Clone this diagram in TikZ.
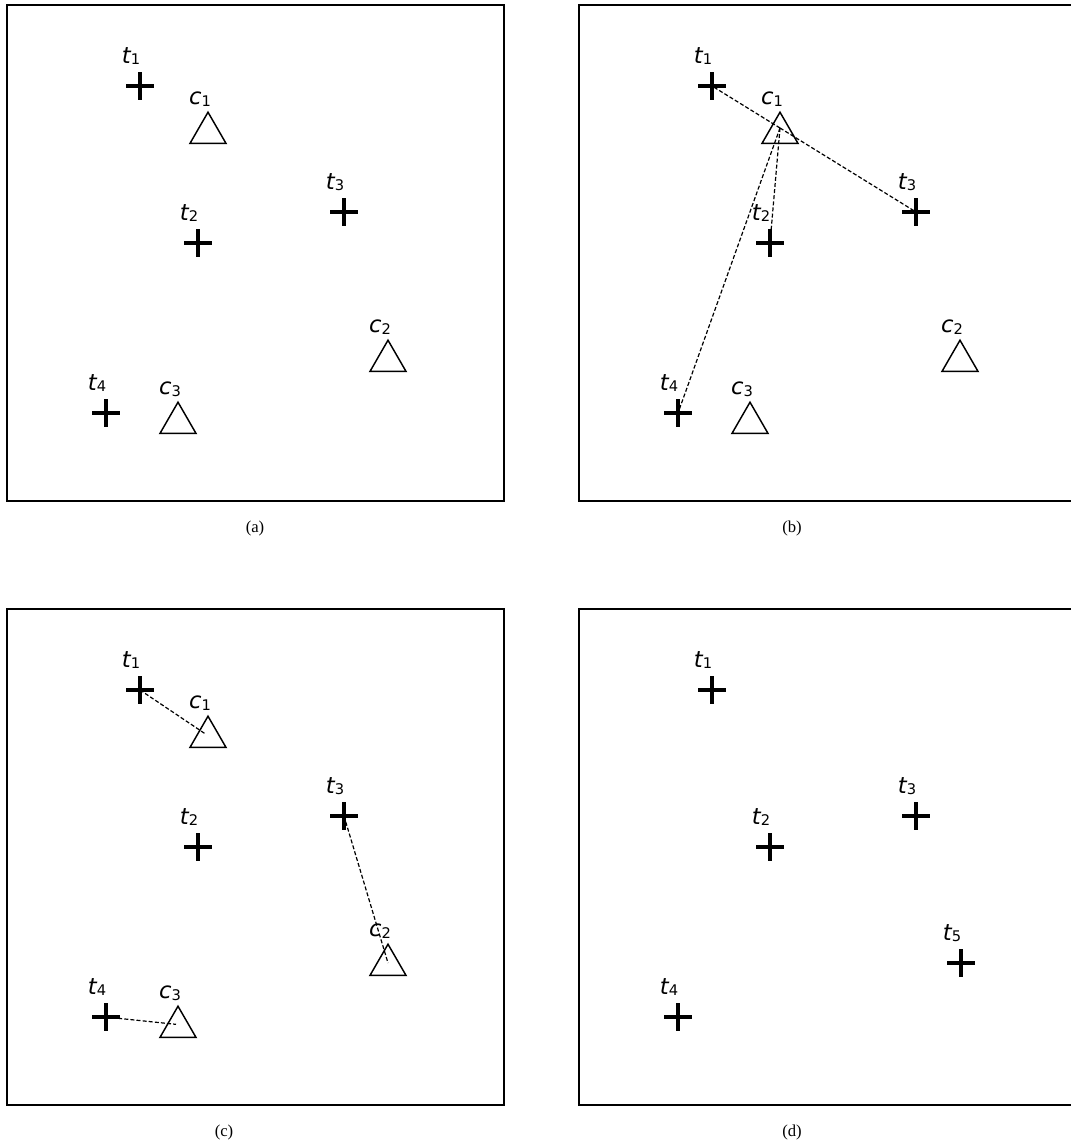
\documentclass[tikz,border=0pt]{standalone}
\usepackage{fontspec}
\setmainfont{Liberation Serif}
\newfontfamily\lblfont{DejaVu Sans}
\usetikzlibrary{shapes.geometric}
\tikzset{
  x=0.75pt, y=-0.75pt,
  panelbox/.style={line width=1.1pt},
  terminal/.style={rectangle, minimum size=21pt, inner sep=0pt,
    path picture={\draw[line width=2.3pt]
      (path picture bounding box.west)--(path picture bounding box.east)
      (path picture bounding box.north)--(path picture bounding box.south);}},
  concentrator/.style={draw, regular polygon, regular polygon sides=3,
    minimum size=31.2pt, inner sep=0pt, line width=1.1pt},
  lbl/.style={font=\lblfont\fontsize{17}{17}\selectfont, inner sep=0pt},
  link/.style={line width=0.9pt, dash pattern=on 3pt off 1.6pt},
  caption/.style={font=\fontsize{12.5}{14}\selectfont, inner sep=0pt}
}
\newcommand{\sublab}[2]{{\itshape #1}{\fontsize{11}{11}\selectfont\raisebox{-0.2ex}{#2}}}
% #1 prefix, #2 index, #3 x, #4 y
\newcommand{\term}[4]{%
  \node[terminal] (#1t#2) at (#3,#4) {};
  \node[lbl] (#1t#2lab) at (#3-9,#4-30) {\sublab{t}{#2}};}
\newcommand{\conc}[4]{%
  \node[concentrator] (#1c#2) at (#3,#4) {};
  \node[lbl] (#1c#2lab) at (#3-8,#4-34) {\sublab{c}{#2}};}
\newcommand{\baseterms}[1]{%
  \term{#1}{1}{140}{86}
  \term{#1}{2}{198}{243}
  \term{#1}{3}{344}{212}
  \term{#1}{4}{106}{413}}
\newcommand{\baseconcs}[1]{%
  \conc{#1}{1}{208}{133}
  \conc{#1}{2}{388}{361}
  \conc{#1}{3}{178}{423}}
\begin{document}
\begin{tikzpicture}
\useasboundingbox (0,0) rectangle (1071,1146);
% panel (a)
\begin{scope}
  \draw[panelbox] (7,5) rectangle (504,501);
  \baseterms{a}
  \baseconcs{a}
  \node[caption] (capa) at (255,528) {(a)};
\end{scope}
% panel (b)
\begin{scope}[shift={(572,0)}]
  \draw[panelbox] (510,5) -- (7,5) -- (7,501) -- (510,501);
  \baseterms{b}
  \baseconcs{b}
  \coordinate (bhub) at ([yshift=3.75pt]bc1.center);
  \draw[link] (bhub) -- (bt1.center);
  \draw[link] (bhub) -- (bt2.center);
  \draw[link] (bhub) -- (bt3.center);
  \draw[link] (bhub) -- (bt4.center);
  \node[caption] (capb) at (220,528) {(b)};
\end{scope}
% panel (c)
\begin{scope}[shift={(0,604)}]
  \draw[panelbox] (7,5) rectangle (504,501);
  \baseterms{c}
  \baseconcs{c}
  \draw[link] (ct1.center) -- ([xshift=-1.5pt,yshift=2pt]cc1.center);
  \draw[link] (ct3.center) -- ([yshift=1.5pt]cc2.center);
  \draw[link] (ct4.center) -- ([xshift=-1.5pt,yshift=2pt]cc3.center);
  \node[caption] (capc) at (224,528) {(c)};
\end{scope}
% panel (d)
\begin{scope}[shift={(572,604)}]
  \draw[panelbox] (510,5) -- (7,5) -- (7,501) -- (510,501);
  \baseterms{d}
  \term{d}{5}{389}{359}
  \node[caption] (capd) at (220,528) {(d)};
\end{scope}
\end{tikzpicture}
\end{document}
